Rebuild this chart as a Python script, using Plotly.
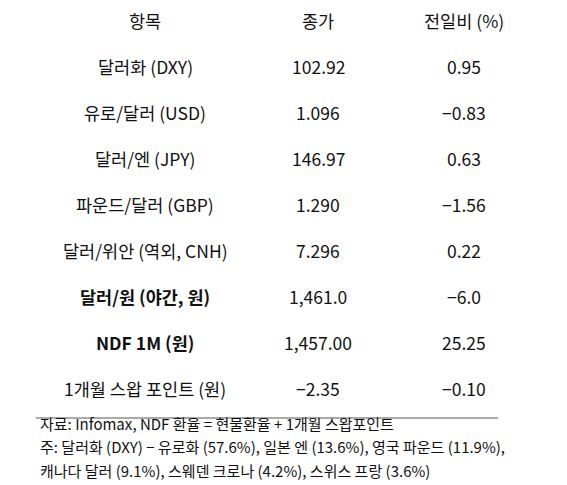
import plotly.graph_objects as go

headers = ["항목", "종가", "전일비 (%)"]
items = ["달러화 (DXY)", "유로/달러 (USD)", "달러/엔 (JPY)", "파운드/달러 (GBP)",
         "달러/위안 (역외, CNH)", "달러/원 (야간, 원)", "NDF 1M (원)", "1개월 스왑 포인트 (원)"]
closes = ["102.92", "1.096", "146.97", "1.290", "7.296", "1,461.0", "1,457.00", "−2.35"]
changes = ["0.95", "−0.83", "0.63", "−1.56", "0.22", "−6.0", "25.25", "−0.10"]
bold_rows = [5, 6]
notes = ["자료: Infomax, NDF 환율 = 현물환율 + 1개월 스왑포인트",
         "주: 달러화 (DXY) − 유로화 (57.6%), 일본 엔 (13.6%), 영국 파운드 (11.9%),",
         "캐나다 달러 (9.1%), 스웨덴 크로나 (4.2%), 스위스 프랑 (3.6%)"]

W, H = 567, 485
FONT = "Noto Sans CJK KR"
col_x = [137, 310, 456]
fig = go.Figure()
anns = []
def add(x, y, t, size=17.5, bold=False, anchor="center"):
    anns.append(dict(x=x / W, y=1 - y / H, xref="paper", yref="paper", text=("<b>%s</b>" % t) if bold else t,
                     showarrow=False, xanchor=anchor, yanchor="middle",
                     font=dict(family=FONT, size=size, color="#111")))
for i, h in enumerate(headers):
    add(col_x[i], 12, h)
for r in range(len(items)):
    y = 58 + r * 46.1
    b = r in bold_rows
    add(col_x[0], y, items[r], bold=b)
    add(col_x[1], y, closes[r])
    add(col_x[2], y, changes[r])
for i, n in enumerate(notes):
    add(30, 415 + i * 23.5, n, size=15, anchor="left")
fig.update_layout(width=W, height=H, margin=dict(l=0, r=0, t=0, b=0),
                  paper_bgcolor="white", plot_bgcolor="white", annotations=anns,
                  xaxis=dict(visible=False, range=[0, W]), yaxis=dict(visible=False, range=[H, 0]),
                  shapes=[dict(type="line", xref="paper", yref="paper", x0=28 / W, x1=490 / W,
                               y0=1 - 410 / H, y1=1 - 410 / H, line=dict(color="#aaa", width=2))])
fig.write_html("out.html")
